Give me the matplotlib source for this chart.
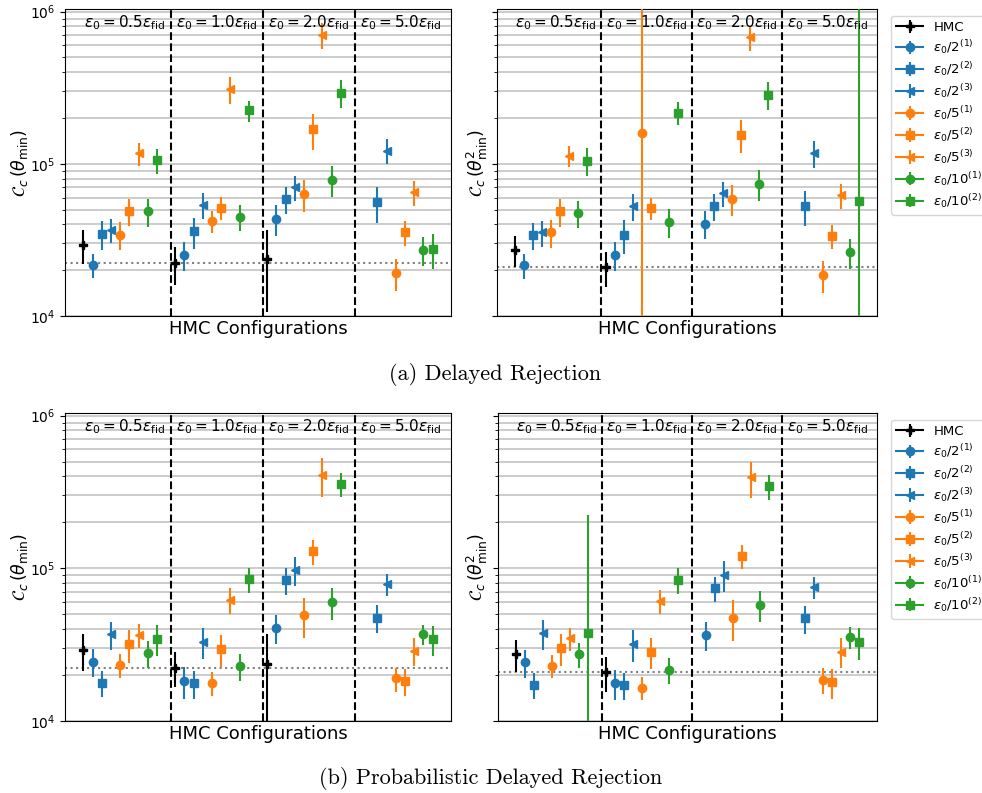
import numpy as np
import matplotlib.pyplot as plt

nan = np.nan

# step-size groups and the nine sampler configurations inside each group
eps_groups = ['0.5', '1.0', '2.0', '5.0']
series_labels = ['HMC',
                 r'$\epsilon_0/2^{(1)}$', r'$\epsilon_0/2^{(2)}$', r'$\epsilon_0/2^{(3)}$',
                 r'$\epsilon_0/5^{(1)}$', r'$\epsilon_0/5^{(2)}$', r'$\epsilon_0/5^{(3)}$',
                 r'$\epsilon_0/10^{(1)}$', r'$\epsilon_0/10^{(2)}$']
series_colors = ['k', 'tab:blue', 'tab:blue', 'tab:blue',
                 'tab:orange', 'tab:orange', 'tab:orange', 'tab:green', 'tab:green']
series_markers = ['P', 'o', 's', '<', 'o', 's', '<', 'o', 's']

# cost C_c, rows = configurations, columns = step-size groups
dr_min_val = [[29400, 22300, 23700, nan],
              [21700, 25300, 43500, nan],
              [34500, 36000, 58600, 55700],
              [36900, 53800, 70300, 122000],
              [34200, 42200, 63500, 19100],
              [49100, 51600, 169000, 35400],
              [117500, 310000, 703000, 64800],
              [48600, 44700, 78500, 27200],
              [106000, 224000, 294000, 27500]]
dr_min_err = [[7600, 6300, 13000, nan],
              [3900, 5500, 9800, nan],
              [7300, 8300, 12000, 14800],
              [6500, 10300, 13400, 23000],
              [7000, 7000, 15000, 4600],
              [10000, 9000, 45000, 6600],
              [20500, 62000, 139000, 12000],
              [10400, 8600, 18300, 6000],
              [20000, 36000, 62000, 7000]]

dr_min2_val = [[27200, 21000, nan, nan],
               [21500, 25300, 40400, nan],
               [34000, 34000, 52500, 52500],
               [35400, 53000, 64200, 117500],
               [35400, 159000, 58900, 18600],
               [48600, 51200, 155000, 33700],
               [113000, nan, 679000, 62000],
               [47400, 41200, 73900, 26300],
               [105000, 217000, 284000, 56600]]
dr_min2_err = [[6300, 5500, nan, nan],
               [3900, 5500, 8300, nan],
               [6900, 8500, 10600, 13500],
               [7000, 10600, 12200, 23000],
               [7500, 1300000, 13200, 4400],
               [10000, 8500, 38000, 6000],
               [18000, nan, 130000, 11500],
               [9300, 8900, 17000, 5800],
               [21500, 37000, 60000, 1200000]]

pdr_min_val = [[29200, 22400, 23500, nan],
               [24500, 18300, 40900, nan],
               [17700, 17700, 83200, 47600],
               [37000, 33100, 97700, 78700],
               [23300, 17700, 49500, 19000],
               [31800, 29500, 129000, 18300],
               [36600, 62100, 410000, 28800],
               [27800, 23000, 60000, 37000],
               [34500, 84900, 358000, 34500]]
pdr_min_err = [[7800, 5800, 13700, nan],
               [5200, 4300, 8800, nan],
               [3400, 3700, 16500, 10000],
               [7800, 7500, 21500, 13200],
               [4100, 3200, 14500, 3400],
               [7800, 7000, 23500, 3700],
               [6400, 11800, 115000, 6000],
               [5500, 4600, 14000, 5700],
               [7900, 15700, 63000, 7700]]

pdr_min2_val = [[27400, 21000, nan, nan],
                [24200, 17700, 36600, nan],
                [17200, 17200, 74100, 47100],
                [37600, 31800, 90600, 75200],
                [23000, 16500, 47600, 18600],
                [30000, 28500, 121000, 17900],
                [34800, 61200, 394000, 28500],
                [27400, 21600, 57700, 35400],
                [37900, 84100, 344000, 32800]]
pdr_min2_err = [[6500, 5400, nan, nan],
                [5000, 4000, 7700, nan],
                [3300, 3500, 13900, 9900],
                [8300, 7600, 21000, 12400],
                [3900, 2800, 14300, 3600],
                [7200, 6600, 22000, 3900],
                [5900, 11200, 104000, 6200],
                [5000, 4200, 13100, 5700],
                [186000, 15800, 62000, 7700]]

W, H = 982, 793
fig = plt.figure(figsize=(W / 100, H / 100), dpi=100)


def px_axes(x0, x1, y0, y1):
    return fig.add_axes([x0 / W, 1 - y1 / H, (x1 - x0) / W, (y1 - y0) / H])


def draw_panel(ax, vals, errs, ylabel, show_ylabels=True, legend=False):
    vals = np.array(vals, dtype=float)
    errs = np.array(errs, dtype=float)
    ax.set_yscale('log')
    for i in range(len(series_labels)):
        labelled = False
        for g in range(len(eps_groups)):
            if np.isnan(vals[i, g]):
                continue
            ax.errorbar([g * 10 + i], [vals[i, g]], yerr=[errs[i, g]],
                        marker=series_markers[i], color=series_colors[i], ms=6,
                        label=None if labelled else series_labels[i], zorder=3)
            labelled = True
    # reference level: plain HMC at the fiducial step size
    ax.axhline(vals[0, 1], color='gray', ls=':', lw=1.5, zorder=2)
    for g in range(1, len(eps_groups)):
        ax.axvline(g * 10 - 0.5, color='k', ls='--', lw=1.5, zorder=2)
    for g, e in enumerate(eps_groups):
        ax.text(g * 10 + 4.5, 0.985, r'$\epsilon_0 = %s\epsilon_{\rm fid}$' % e,
                transform=ax.get_xaxis_transform(), ha='center', va='top', fontsize=11)
    ax.set_xlim(-2, 40)
    ax.set_ylim(1e4, 1.04e6)
    ax.set_xticks([])
    ax.grid(True, which='both', axis='y', color='#c4c4c4', lw=1.2)
    ax.set_xlabel('HMC Configurations', fontsize=13, labelpad=3)
    ax.set_ylabel(ylabel, fontsize=12.5, labelpad=0)
    ax.tick_params(labelleft=show_ylabels, labelsize=10)
    if legend:
        ax.legend(loc='upper left', bbox_to_anchor=(1.02, 1.0), fontsize=9.5,
                  labelspacing=0.3)


lab_min = r'$\mathcal{C}_c\,(\theta_{\rm min})$'
lab_min2 = r'$\mathcal{C}_c\,(\theta^2_{\rm min})$'

ax1 = px_axes(65, 451, 9, 316)
draw_panel(ax1, dr_min_val, dr_min_err, lab_min)
ax2 = px_axes(497, 877, 9, 316)
draw_panel(ax2, dr_min2_val, dr_min2_err, lab_min2, show_ylabels=False, legend=True)
ax3 = px_axes(65, 451, 413, 721)
draw_panel(ax3, pdr_min_val, pdr_min_err, lab_min)
ax4 = px_axes(498, 877, 413, 721)
draw_panel(ax4, pdr_min2_val, pdr_min2_err, lab_min2, show_ylabels=False, legend=True)

fig.text(495 / W, 1 - 375 / H, '(a) Delayed Rejection', family='cmr10',
         fontsize=16, ha='center', va='center')
fig.text(491 / W, 1 - 778 / H, '(b) Probabilistic Delayed Rejection', family='cmr10',
         fontsize=16, ha='center', va='center')

fig.savefig('out.png', dpi=100)
